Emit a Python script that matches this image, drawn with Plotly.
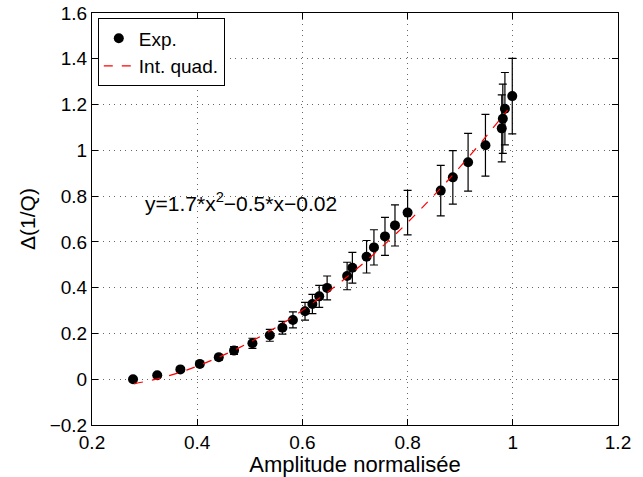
import plotly.graph_objects as go

# Données mesurées
amp = [0.278, 0.324, 0.368, 0.405, 0.441, 0.470, 0.505, 0.538, 0.562, 0.582,
       0.605, 0.619, 0.632, 0.647, 0.685, 0.695, 0.722, 0.736, 0.757, 0.776,
       0.800, 0.863, 0.886, 0.915, 0.948, 0.979, 0.981, 0.985, 0.999]
delta_q = [0.000, 0.017, 0.043, 0.067, 0.096, 0.125, 0.157, 0.192, 0.225, 0.259,
           0.297, 0.329, 0.362, 0.399, 0.451, 0.487, 0.535, 0.576, 0.624, 0.672,
           0.728, 0.824, 0.882, 0.948, 1.022, 1.096, 1.138, 1.182, 1.237]
err = [0.004, 0.006, 0.008, 0.010, 0.013, 0.017, 0.022, 0.026, 0.028, 0.035,
       0.039, 0.042, 0.048, 0.052, 0.060, 0.067, 0.071, 0.077, 0.083, 0.090,
       0.097, 0.110, 0.117, 0.126, 0.135, 0.146, 0.151, 0.158, 0.165]

# Interpolation quadratique
fit_x = [0.28, 0.33, 0.38, 0.43, 0.48, 0.53, 0.58, 0.63, 0.68, 0.73,
         0.78, 0.83, 0.88, 0.93, 0.99]
fit_y = [-0.02, 0.005, 0.04, 0.085, 0.138, 0.2, 0.27, 0.35, 0.438, 0.535,
         0.64, 0.755, 0.877, 1.008, 1.176]

x_ticks = [0.2, 0.4, 0.6, 0.8, 1.0, 1.2]
x_labels = ["0.2", "0.4", "0.6", "0.8", "1", "1.2"]
y_ticks = [-0.2, 0, 0.2, 0.4, 0.6, 0.8, 1.0, 1.2, 1.4, 1.6]
y_labels = ["\u22120.2", "0", "0.2", "0.4", "0.6", "0.8", "1", "1.2", "1.4", "1.6"]

fig = go.Figure()

fig.add_trace(go.Scatter(
    name="Exp.", x=amp, y=delta_q, mode="markers",
    marker=dict(color="black", size=10),
    error_y=dict(type="data", array=err, color="black", thickness=1.2, width=4),
))

fig.add_trace(go.Scatter(
    name="Int. quad.", x=fit_x, y=fit_y, mode="lines",
    line=dict(color="red", width=1.2, dash="dash", shape="spline"),
))

fig.add_annotation(
    x=0.297, y=0.775, xref="x", yref="y", xanchor="left", yanchor="middle",
    text="y=1.7*x<sup>2</sup>\u22120.5*x\u22120.02", showarrow=False,
    font=dict(size=21, color="black"),
)

axis_common = dict(
    showline=True, linecolor="black", linewidth=1, mirror="ticks",
    ticks="inside", ticklen=6, tickcolor="black",
    showgrid=True, gridcolor="#666666", griddash="1px,4.5px", gridwidth=1,
    zeroline=False, tickfont=dict(size=19, color="black"),
    ticklabeloverflow="allow",
)

fig.update_xaxes(range=[0.2, 1.2], tickvals=x_ticks, ticktext=x_labels,
                 title=dict(text="Amplitude normalisée", font=dict(size=22, color="black"),
                            standoff=0),
                 **axis_common)
fig.update_yaxes(range=[-0.2, 1.6], tickvals=y_ticks, ticktext=y_labels,
                 title=dict(text="\u0394(1/Q)", font=dict(size=21, color="black"),
                            standoff=8),
                 **axis_common)

fig.update_layout(
    width=643, height=477,
    margin=dict(l=92, r=25, t=13, b=52, autoexpand=False),
    plot_bgcolor="white", paper_bgcolor="white",
    font=dict(family="Liberation Sans, Arial, sans-serif", color="black"),
    legend=dict(x=0.011, y=0.987, xanchor="left", yanchor="top",
                bgcolor="white", bordercolor="black", borderwidth=1,
                font=dict(size=19), itemwidth=30, tracegroupgap=0),
)

# pas de marge autour de la figure dans la page, pas de barre d'outils
fig.write_html("out.html", config={"displayModeBar": False},
               post_script="document.body.style.margin='0';")
